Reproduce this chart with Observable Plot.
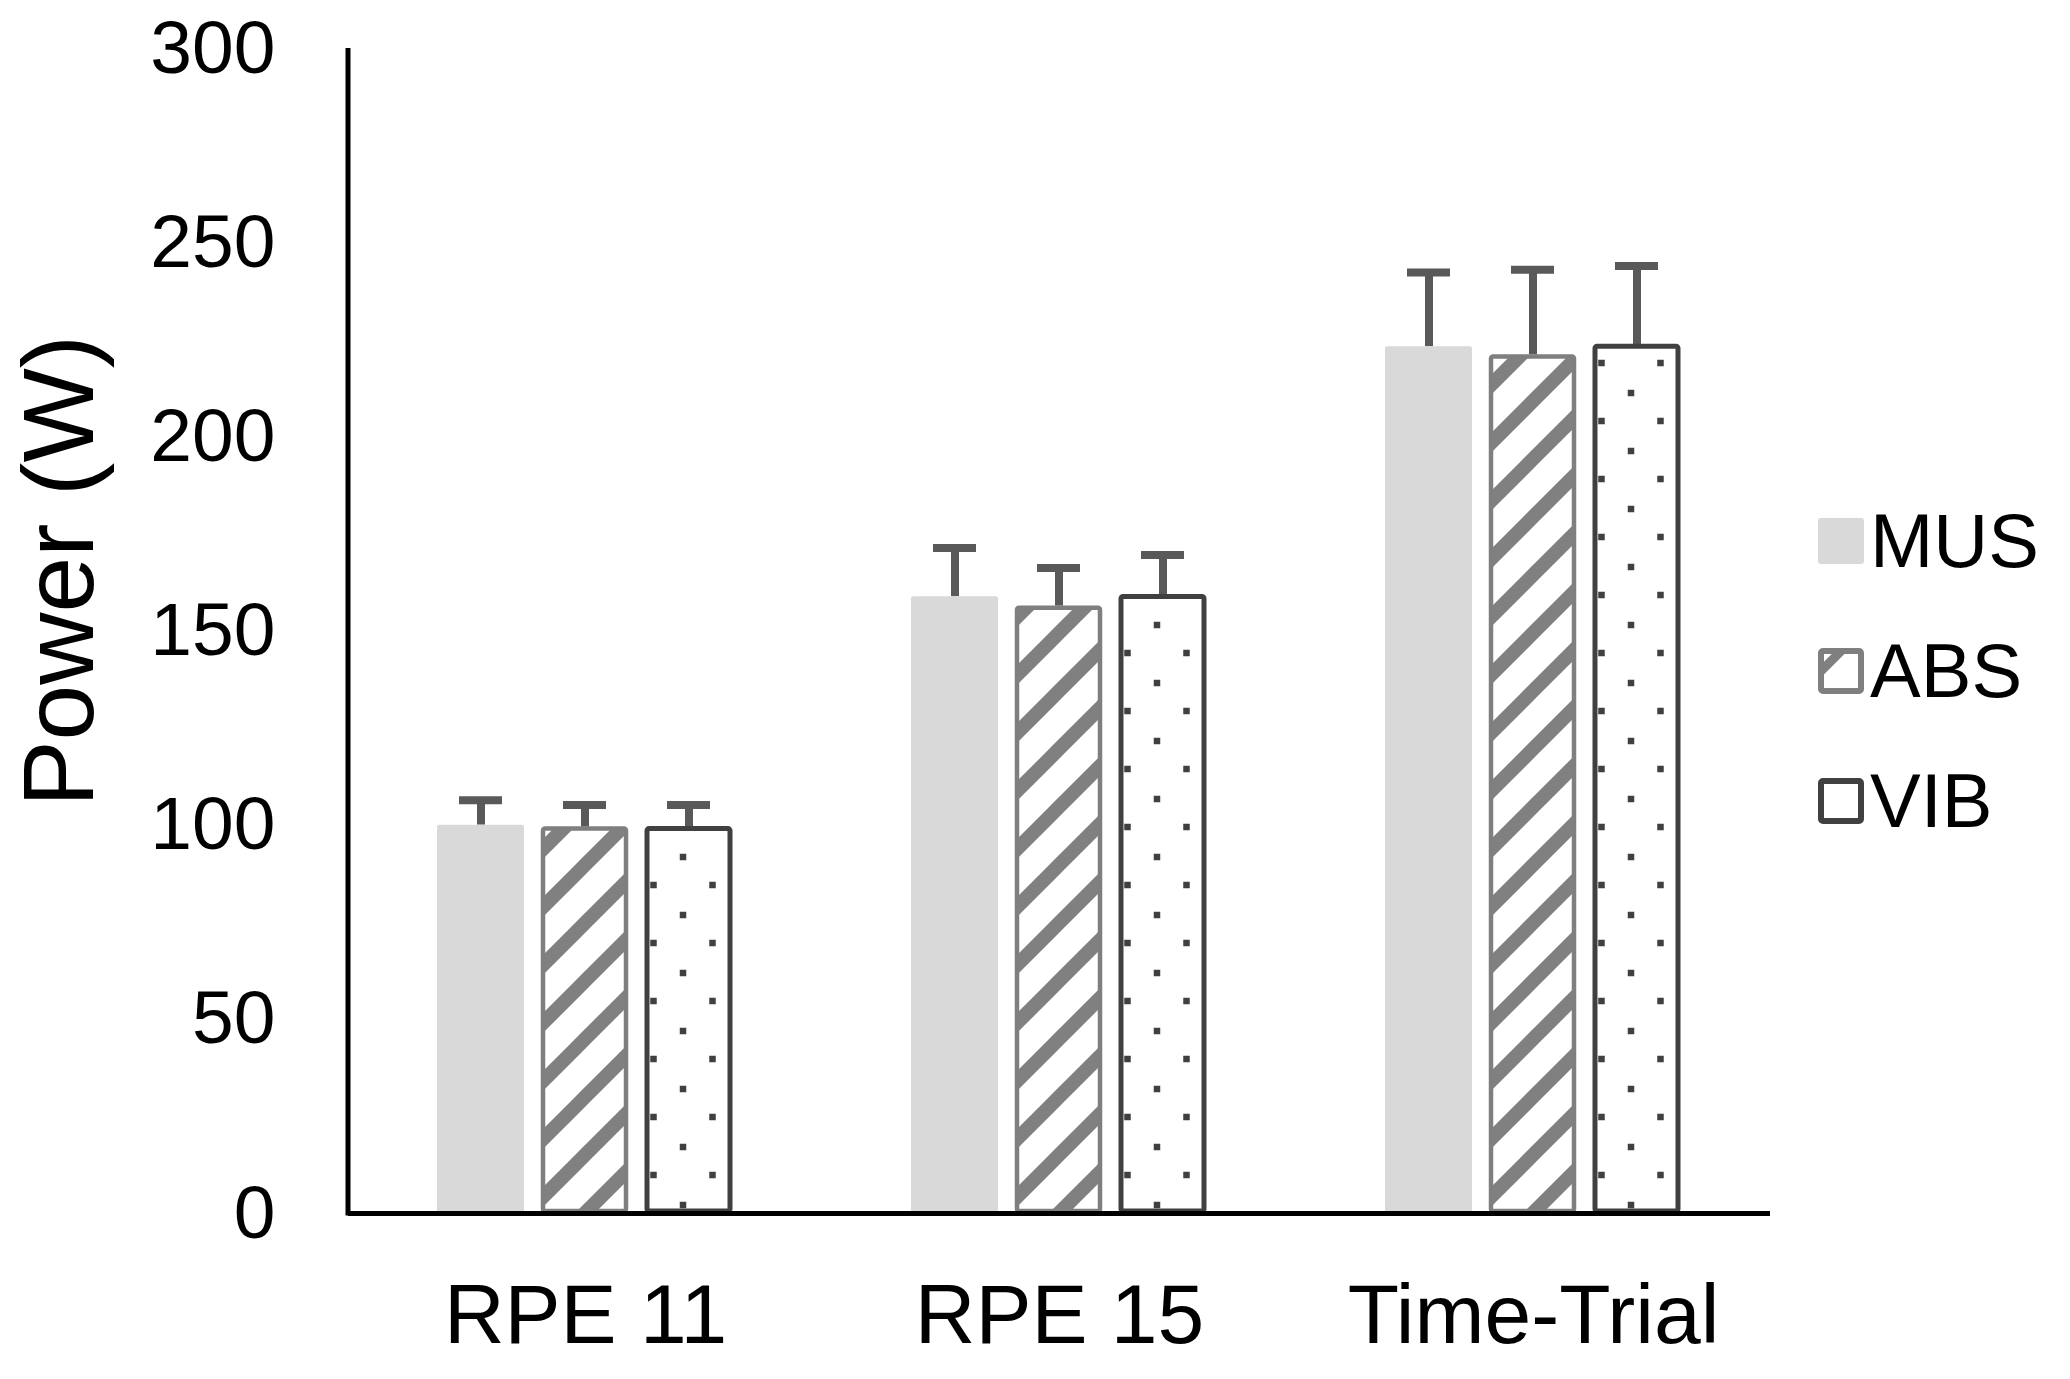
<!DOCTYPE html>
<html>
<head>
<meta charset="utf-8">
<script src="https://cdn.jsdelivr.net/npm/d3@7"></script>
<script src="https://cdn.jsdelivr.net/npm/@observablehq/plot@0.6"></script>
<style>
  html, body { margin: 0; padding: 0; background: #fff; }
  body { width: 2070px; height: 1379px; position: relative; overflow: hidden; font-family: "Liberation Sans", Arial, sans-serif; }
  #chart { position: absolute; left: 0; top: 0; }
  #legend { position: absolute; left: 1818px; top: 518px; }
  .item { display: flex; align-items: center; height: 46px; margin-bottom: 84px; }
  .item span { font-size: 76px; color: #000; margin-left: 6px; line-height: 46px; }
  .sw { width: 46px; height: 46px; display: block; }
</style>
</head>
<body>
<svg width="0" height="0" style="position:absolute">
  <defs>
    <pattern id="hatch" patternUnits="userSpaceOnUse" width="58" height="58">
      <rect width="58" height="58" fill="#fff"></rect>
      <path d="M-14,14 L14,-14 M0,58 L58,0 M44,72 L72,44" stroke="#808080" stroke-width="14"></path>
    </pattern>
    <pattern id="dots" patternUnits="userSpaceOnUse" width="59" height="58">
      <rect width="59" height="58" fill="#fff"></rect>
      <rect x="30.75" y="41.75" width="6.5" height="6.5" fill="#404040"></rect>
      <rect x="1.25" y="11.75" width="6.5" height="6.5" fill="#404040"></rect>
    </pattern>
    <pattern id="hatchLegend" patternUnits="userSpaceOnUse" width="46" height="46">
      <rect width="46" height="46" fill="#fff"></rect>
      <path d="M0,26 L26,0" stroke="#808080" stroke-width="9"></path>
    </pattern>
  </defs>
</svg>
<div id="chart"></div>
<div id="legend">
  <div class="item"><svg class="sw"><rect x="0" y="0" width="46" height="46" rx="3" fill="#d9d9d9"></rect></svg><span>MUS</span></div>
  <div class="item"><svg class="sw"><rect x="3" y="3" width="40" height="40" rx="2" fill="url(#hatchLegend)" stroke="#7f7f7f" stroke-width="6"></rect></svg><span>ABS</span></div>
  <div class="item"><svg class="sw"><rect x="3" y="3" width="40" height="40" rx="2" fill="#fff" stroke="#404040" stroke-width="6"></rect></svg><span>VIB</span></div>
</div>
<script>
const categories = ["RPE 11", "RPE 15", "Time-Trial"];
const series = ["MUS", "ABS", "VIB"];
const musMean = [100.0, 158.8, 223.2];
const musSD   = [6.4, 12.6, 19.1];
const absMean = [99.5, 156.4, 221.1];
const absSD   = [5.7, 9.8, 21.9];
const vibMean = [99.5, 159.3, 223.7];
const vibSD   = [5.7, 10.3, 20.3];
const yTicks = [0, 50, 100, 150, 200, 250, 300];
const yLabel = "Power (W)";

const means = {MUS: musMean, ABS: absMean, VIB: vibMean};
const sds = {MUS: musSD, ABS: absSD, VIB: vibSD};
const rows = [];
categories.forEach((cat, i) => series.forEach(s => rows.push({cat, series: s, value: means[s][i], sd: sds[s][i]})));

const chart = Plot.plot({
  width: 1800,
  height: 1379,
  marginLeft: 348,
  marginRight: 30,
  marginTop: 48,
  marginBottom: 166,
  style: {fontFamily: "'Liberation Sans', Arial, sans-serif", color: "#000", background: "transparent"},
  fx: {domain: categories, paddingInner: 0, paddingOuter: 0, label: null},
  x: {domain: series, paddingInner: 0.163, paddingOuter: 0.86, axis: null},
  y: {domain: [0, 300], label: null},
  marks: [
    Plot.axisY({ticks: yTicks, tickSize: 0, tickPadding: 73, fontSize: 75, label: null}),
    Plot.axisFx({anchor: "bottom", tickSize: 0, tickPadding: 70, fontSize: 84, label: null}),
    Plot.ruleX(rows, {fx: "cat", x: "series", y1: "value", y2: d => d.value + d.sd, stroke: "#595959", strokeWidth: 8}),
    Plot.tickY(rows, {fx: "cat", x: "series", y: d => d.value + d.sd, stroke: "#595959", strokeWidth: 8, insetLeft: 22, insetRight: 22}),
    Plot.barY(rows.filter(d => d.series === "MUS"), {fx: "cat", x: "series", y: "value", fill: "#d9d9d9", rx: 2}),
    Plot.barY(rows.filter(d => d.series === "ABS"), {fx: "cat", x: "series", y: "value", fill: "url(#hatch)", stroke: "#7f7f7f", strokeWidth: 4.5, inset: 2, rx: 2}),
    Plot.barY(rows.filter(d => d.series === "VIB"), {fx: "cat", x: "series", y: "value", fill: "url(#dots)", stroke: "#404040", strokeWidth: 5, inset: 2, rx: 2}),
    Plot.ruleY([0], {stroke: "#000", strokeWidth: 5}),
    Plot.text([{cat: categories[0]}], {fx: "cat", text: () => yLabel, frameAnchor: "left", textAnchor: "middle", rotate: -90, dx: -288, dy: -60, fontSize: 100, fill: "#000"})
  ]
});

// y-axis domain line, placed from the plot's own scales
const fxS = chart.scale("fx"), yS = chart.scale("y");
d3.select(chart).append("line")
  .attr("x1", fxS.range[0]).attr("x2", fxS.range[0])
  .attr("y1", yS.range[0] + 2.5).attr("y2", yS.range[1])
  .attr("stroke", "#000").attr("stroke-width", 5);

document.getElementById("chart").appendChild(chart);
</script>
</body>
</html>
